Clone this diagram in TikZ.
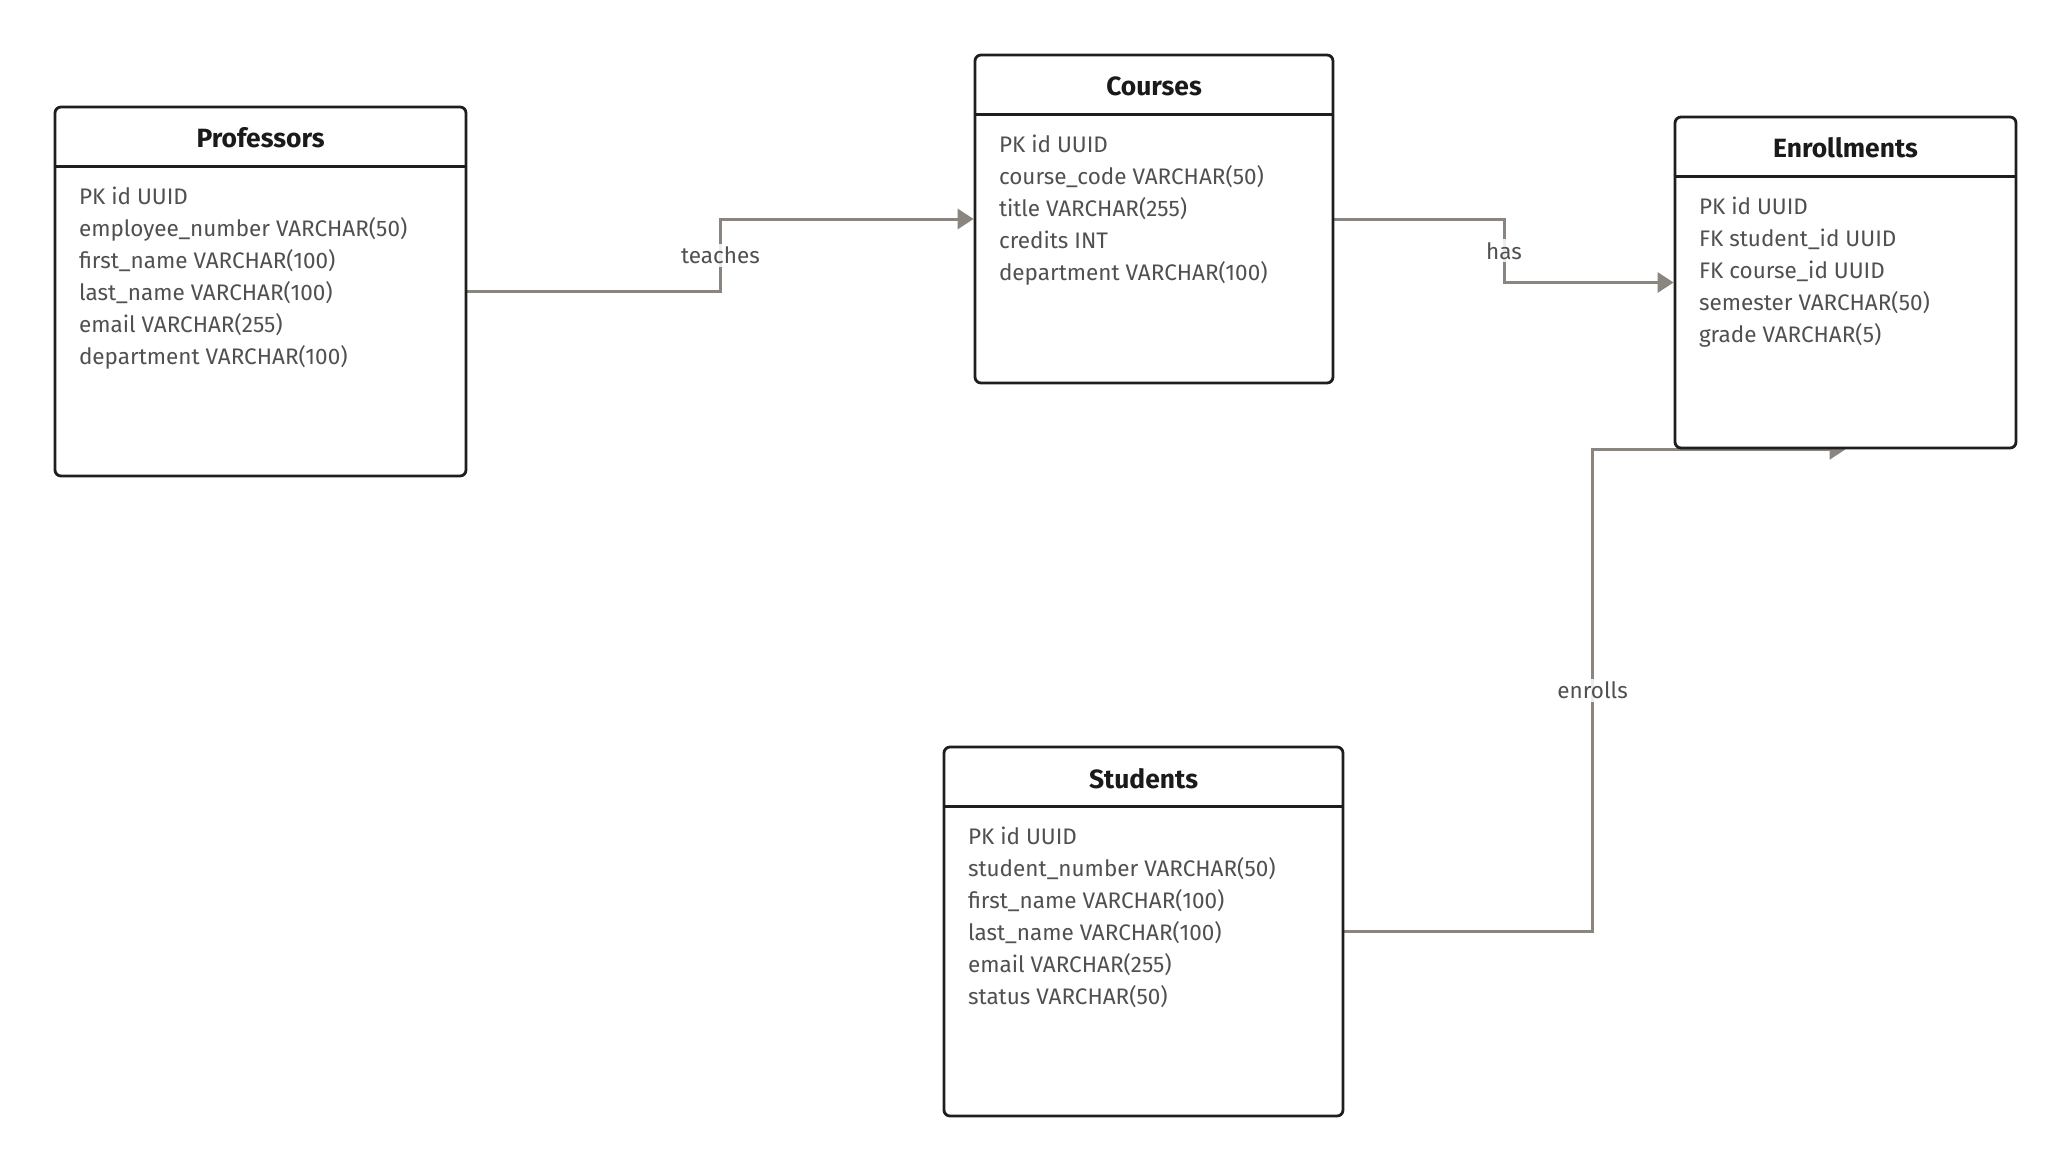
\documentclass[tikz,border=0pt]{standalone}
\usepackage{fontspec}
\setmainfont{Fira Sans}
\usetikzlibrary{arrows.meta,backgrounds,calc,positioning}
\definecolor{boxline}{HTML}{1E1E1E}
\definecolor{linkgray}{HTML}{8A867F}
\definecolor{fieldgray}{HTML}{505050}
\definecolor{titleblack}{HTML}{1A1A1A}
\begin{document}
\begin{tikzpicture}[font=\fontsize{11.25pt}{16pt}\selectfont]
  \tikzstyle{tablebox}=[draw=boxline, line width=1.4pt, rounded corners=3pt, fill=white, inner sep=0pt]
  \tikzstyle{tabletitle}=[font=\fontsize{13.2pt}{16pt}\selectfont\bfseries, text=titleblack, inner sep=0pt]
  \tikzstyle{fieldrow}=[anchor=base west, text=fieldgray, inner sep=0pt]
  \tikzstyle{headrule}=[draw=boxline, line width=1.2pt]
  \tikzstyle{relline}=[draw=linkgray, line width=1.5pt, -{Triangle[length=8pt,width=10pt]}]
  \tikzstyle{rellabel}=[fill=white, fill opacity=0.85, text opacity=1, text=fieldgray, inner sep=1.5pt]
  \useasboundingbox (0,0) rectangle (1036pt,-586pt);
  % tables
  \node[tablebox, minimum width=205.5pt, minimum height=184.5pt] (prof) at (130.25pt,-145.75pt) {};
  \node[tablebox, minimum width=179pt, minimum height=164pt] (course) at (577pt,-109.5pt) {};
  \node[tablebox, minimum width=170.5pt, minimum height=165.5pt] (enroll) at (922.75pt,-141.25pt) {};
  \node[tablebox, minimum width=199.5pt, minimum height=184.5pt] (student) at (571.75pt,-465.75pt) {};
  % titles and header rules
  \foreach \t/\name in {prof/Professors, course/Courses, enroll/Enrollments, student/Students} {
    \node[tabletitle] (\t-title) at ([yshift=-16.3pt]\t.north) {\name};
    \draw[headrule] ([yshift=-30.5pt]\t.north west) -- ([yshift=-30.5pt]\t.north east);
  }
  % columns
  \foreach \f [count=\i] in {PK id UUID, employee\_number VARCHAR(50), first\_name VARCHAR(100),
      last\_name VARCHAR(100), email VARCHAR(255), department VARCHAR(100)}
    \node[fieldrow] (prof-f\i) at ([xshift=12.5pt, yshift={-49.5pt-(\i-1)*16pt}]prof.north west) {\f};
  \foreach \f [count=\i] in {PK id UUID, course\_code VARCHAR(50), title VARCHAR(255),
      credits INT, department VARCHAR(100)}
    \node[fieldrow] (course-f\i) at ([xshift=12.5pt, yshift={-49.5pt-(\i-1)*16pt}]course.north west) {\f};
  \foreach \f [count=\i] in {PK id UUID, FK student\_id UUID, FK course\_id UUID,
      semester VARCHAR(50), grade VARCHAR(5)}
    \node[fieldrow] (enroll-f\i) at ([xshift=12.5pt, yshift={-49.5pt-(\i-1)*16pt}]enroll.north west) {\f};
  \foreach \f [count=\i] in {PK id UUID, student\_number VARCHAR(50), first\_name VARCHAR(100),
      last\_name VARCHAR(100), email VARCHAR(255), status VARCHAR(50)}
    \node[fieldrow] (student-f\i) at ([xshift=12.5pt, yshift={-49.5pt-(\i-1)*16pt}]student.north west) {\f};
  % relations
  \coordinate (teachmid) at ($(prof.east)!.5!(course.west)$);
  \coordinate (hasmid) at ($(course.east)!.5!(enroll.west)$);
  \coordinate (enrollbend) at ([xshift=-40.5pt]enroll.south west);
  \begin{pgfonlayer}{background}
    \draw[relline] (prof.east) -| (teachmid) node[rellabel] {teaches} |- (course.west);
    \draw[relline] (course.east) -| (hasmid) node[rellabel] {has} |- (enroll.west);
    \draw[relline] (student.east) -| (enrollbend) node[rellabel, pos=0.75] {enrolls} -- (enroll.south);
  \end{pgfonlayer}
\end{tikzpicture}
\end{document}
